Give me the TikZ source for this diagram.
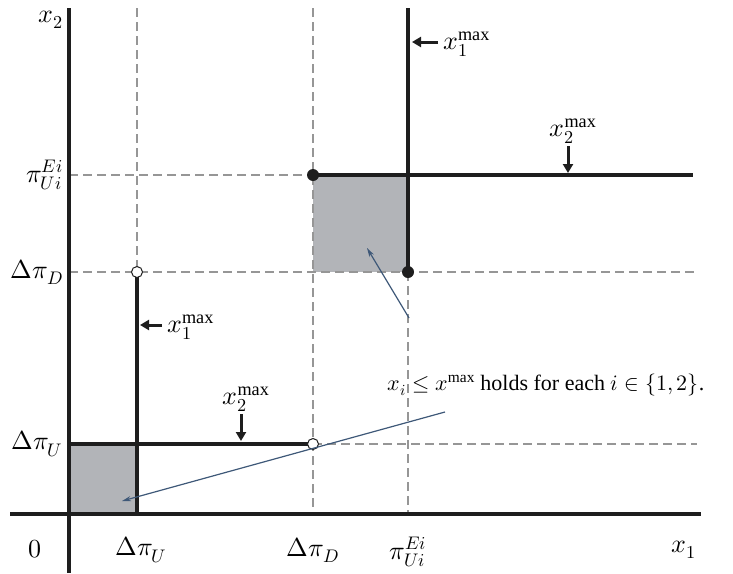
\documentclass[tikz,border=0pt]{standalone}
\usepackage{fontspec}
\usepackage{unicode-math}
\setmainfont{Liberation Serif}
\setmathfont{Latin Modern Math}
\usetikzlibrary{arrows.meta}
\definecolor{shade}{RGB}{178,180,184}
\definecolor{bluegray}{RGB}{62,88,120}
\definecolor{guidegray}{RGB}{150,150,150}
\definecolor{ink}{RGB}{30,30,30}
\begin{document}
\begin{tikzpicture}[x=1pt,y=-1pt,
 axis/.style={line width=3.5pt,ink},
 bound/.style={line width=4.5pt,ink},
 guide/.style={line width=2.5pt,guidegray,dash pattern=on 9pt off 5pt},
 region/.style={fill=shade},
 opendot/.style={circle,draw=ink,fill=white,line width=1pt,inner sep=0pt,minimum size=11pt},
 fulldot/.style={circle,fill=ink,inner sep=0pt,minimum size=12pt},
 marker/.style={line width=3pt,ink,-{Triangle[length=9pt,width=10pt]}},
 lbl/.style={font=\fontsize{26}{31}\selectfont,inner sep=0pt},
 mlbl/.style={font=\fontsize{26}{31}\selectfont,inner sep=0pt},
 pointer/.style={draw=bluegray,line width=1.2pt,-{Stealth[length=9pt,width=5pt]}}
]
\useasboundingbox (0,0) rectangle (733,573);
% shaded regions
\fill[region] (69,444) rectangle (137,514);
\fill[region] (313,175) rectangle (408,272);
% guides
\draw[guide] (137,8) -- (137,272);
\draw[guide] (313,8) -- (313,514);
\draw[guide] (408,272) -- (408,514);
\draw[guide] (69,175) -- (313,175);
\draw[guide] (69,272) -- (697,272);
\draw[guide] (313,444) -- (697,444);
% bounds
\draw[bound] (137,272) -- (137,514);
\draw[bound] (69,444) -- (313,444);
\draw[bound] (408,8) -- (408,272);
\draw[bound] (313,175) -- (693,175);
% axes
\draw[axis] (69,8) -- (69,573);
\draw[axis] (10,514) -- (701,514);
% dots
\node[opendot] (o1) at (137,272) {};
\node[opendot] (o2) at (313,444) {};
\node[fulldot] (f1) at (313,175) {};
\node[fulldot] (f2) at (408,272) {};
% axis labels
\node[lbl,anchor=east] (lx2) at (63,20) {$x_2$};
\node[lbl,anchor=east] (lpy) at (63,175) {$\pi_{Ui}^{Ei}$};
\node[lbl,anchor=east] (ldy) at (63,272) {$\Delta\pi_D$};
\node[lbl,anchor=east] (luy) at (63,444) {$\Delta\pi_U$};
\node[lbl] (l0) at (35,549) {$0$};
\node[lbl] (lux) at (141,550) {$\Delta\pi_U$};
\node[lbl] (ldx) at (313,550) {$\Delta\pi_D$};
\node[lbl] (lpx) at (408,552) {$\pi_{Ui}^{Ei}$};
\node[lbl] (lx1) at (684,550) {$x_1$};
% max markers
\coordinate (a1s) at (438,42); \coordinate (a1e) at (412,42);
\draw[marker] (a1s) -- (a1e);
\node[mlbl,anchor=west] (m1) at (443,44) {$x_1^{\max}$};
\coordinate (a2s) at (568,146); \coordinate (a2e) at (568,173);
\draw[marker] (a2s) -- (a2e);
\node[mlbl] (m2) at (573,131) {$x_2^{\max}$};
\coordinate (a3s) at (162,325); \coordinate (a3e) at (140,325);
\draw[marker] (a3s) -- (a3e);
\node[mlbl,anchor=west] (m3) at (167,327) {$x_1^{\max}$};
\coordinate (a4s) at (241,414); \coordinate (a4e) at (241,441);
\draw[marker] (a4s) -- (a4e);
\node[mlbl] (m4) at (246,399) {$x_2^{\max}$};
% annotation
\node[font=\fontsize{22}{26}\selectfont,inner sep=0pt] (note) at (546,385) {$x_i \le x^{\max}$ holds for each $i \in \{1,2\}$.};
\coordinate (p1) at (445,412);
\coordinate (p2) at (409,318);
\coordinate (t1) at (122,501);
\coordinate (t2) at (367,248);
\draw[pointer] (p1) -- (t1);
\draw[pointer] (p2) -- (t2);
\end{tikzpicture}
\end{document}
